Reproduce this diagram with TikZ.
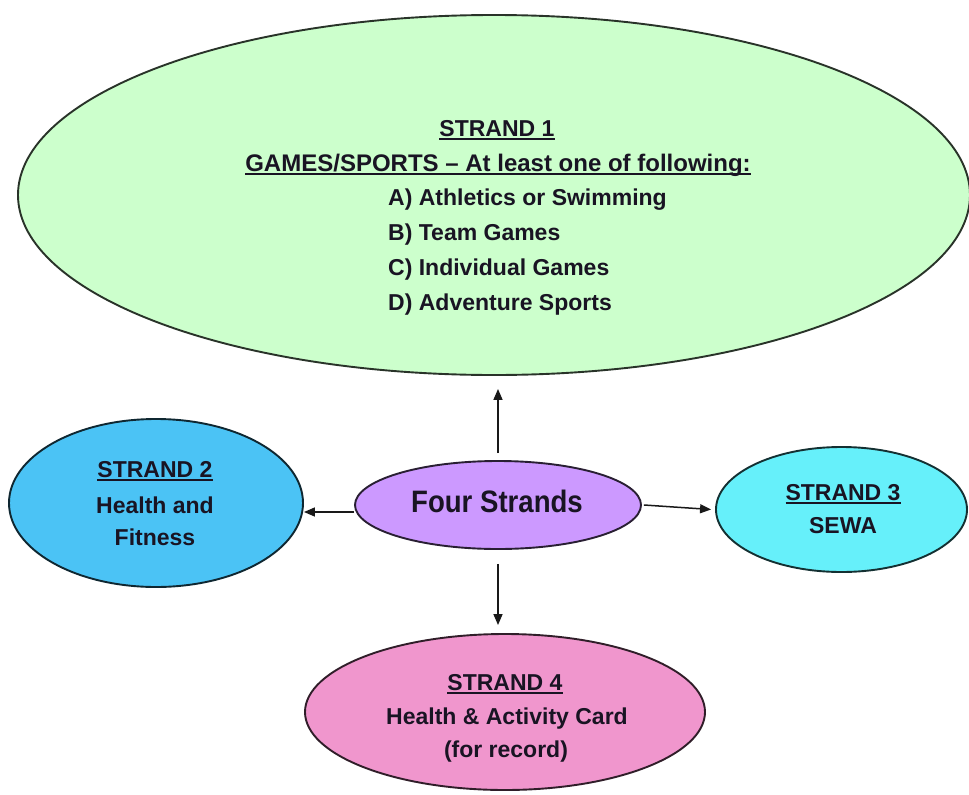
\documentclass[tikz,border=0pt]{standalone}
\usepackage{fontspec}
\setmainfont{Liberation Sans}
\newfontfamily\narrowf{Liberation Sans}[FakeStretch=0.89]
\usetikzlibrary{shapes.geometric,arrows.meta}
\definecolor{gfill}{RGB}{204,255,204}
\definecolor{bfill}{RGB}{75,195,245}
\definecolor{pfill}{RGB}{204,153,255}
\definecolor{cfill}{RGB}{102,240,250}
\definecolor{kfill}{RGB}{240,150,205}
\definecolor{textc}{RGB}{25,20,35}
\newcommand{\ulx}[1]{\setbox0\hbox{#1}\rlap{\rule[-3.5pt]{\wd0}{1.8pt}}\box0}
\begin{document}
\begin{tikzpicture}[x=1pt,y=-1pt,
  oval/.style={ellipse, fill=#1, draw=#1!20!black, line width=1.9pt, inner sep=0pt},
  txt/.style={font=\fontsize{23}{23}\selectfont\bfseries, text=textc, inner sep=0pt, anchor=base},
  bigtxt/.style={font=\narrowf\fontsize{31}{31}\selectfont\bfseries, text=textc, inner sep=0pt, anchor=base},
  arr/.style={-{Triangle[length=11pt,width=9pt]}, line width=1.5pt, draw=black!90}]
\useasboundingbox (0,0) rectangle (969,795);
\fill[white] (0,0) rectangle (969,795);

% ellipses
\node[oval=gfill, minimum width=952pt, minimum height=360pt] (s1) at (494,195) {};
\node[oval=bfill, minimum width=294pt, minimum height=168pt] (s2) at (156,503) {};
\node[oval=pfill, minimum width=286pt, minimum height=88pt] (four) at (498,505) {};
\node[oval=cfill, minimum width=251pt, minimum height=125pt] (s3) at (841.5,509.5) {};
\node[oval=kfill, minimum width=400pt, minimum height=156pt] (s4) at (505,712) {};

% strand 1 text
\node[txt] (s1t) at (497,136) {\ulx{STRAND 1}};
\node[txt, font=\fontsize{24}{24}\selectfont\bfseries] (s1g) at (498,171) {\ulx{GAMES/SPORTS – At least one of following:}};
\node[txt, anchor=base west] (s1a) at (388,205) {A) Athletics or Swimming};
\node[txt, anchor=base west] (s1b) at (388,240) {B) Team Games};
\node[txt, anchor=base west] (s1c) at (388,275) {C) Individual Games};
\node[txt, anchor=base west] (s1d) at (388,310) {D) Adventure Sports};

% strand 2 text
\node[txt] (s2t) at (155,477) {\ulx{STRAND 2}};
\node[txt] (s2a) at (155,513) {Health and};
\node[txt] (s2b) at (155,545) {Fitness};

% four strands
\node[bigtxt] (ft) at (497,512) {Four Strands};

% strand 3 text
\node[txt] (s3t) at (843,500) {\ulx{STRAND 3}};
\node[txt] (s3a) at (843,533) {SEWA};

% strand 4 text
\node[txt] (s4t) at (505,690) {\ulx{STRAND 4}};
\node[txt] (s4a) at (507,724) {Health \& Activity Card};
\node[txt] (s4b) at (506,757) {(for record)};

% connectors
\draw[arr] ([yshift=7pt]four.north) -- ([yshift=-13pt]four.north |- s1.south);
\draw[arr] ([yshift=-14pt]four.south) -- ([yshift=8pt]four.south |- s4.north);
\draw[arr] ([yshift=-7pt]four.west) -- ([yshift=-7pt]four.west -| s2.east);
\draw[arr] ([xshift=2pt]four.east) -- ([xshift=-4pt]s3.west);
\end{tikzpicture}
\end{document}
